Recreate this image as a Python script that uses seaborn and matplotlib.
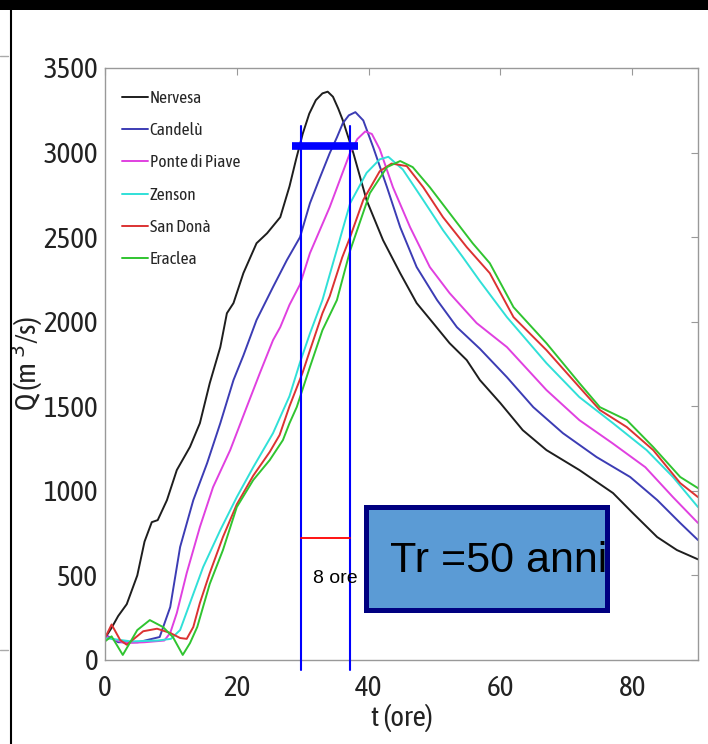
import matplotlib
matplotlib.use('Agg')
import matplotlib.pyplot as plt
from matplotlib import font_manager
from matplotlib.patches import Rectangle
from matplotlib.transforms import Bbox, TransformedBbox
import seaborn as sns
import pandas as pd

# Idrogrammi di piena, Tr = 50 anni
stations = ['Nervesa', 'Candelù', 'Ponte di Piave', 'Zenson', 'San Donà', 'Eraclea']
colors = ['#1e1e1e', '#3c3cb4', '#e040e0', '#30e0d8', '#dc3232', '#30c430']

t_nervesa = [0, 1, 2, 3.3, 4.9, 6, 7.1, 8, 9.4, 10.9, 12.9, 14.4, 15.9, 17.5, 18.5, 19.5, 21, 23, 24.6,
             26.6, 28, 29, 30, 31, 32, 33, 33.8, 34.6, 35.4, 36.1, 37.7, 39.7, 42.2, 44.8, 47.3, 49.8,
             52.3, 54.9, 56.9, 60, 63.4, 67, 72, 77.1, 80.1, 83.8, 86.8, 90]
q_nervesa = [130, 190, 260, 330, 500, 700, 815, 827, 945, 1123, 1260, 1400, 1637, 1850, 2050, 2110, 2287,
             2464, 2523, 2618, 2800, 2960, 3110, 3230, 3310, 3350, 3360, 3330, 3260, 3190, 2996, 2719,
             2482, 2287, 2110, 1992, 1873, 1773, 1655, 1519, 1359, 1241, 1123, 987, 869, 727, 650, 595]

t_candelu = [0, 2, 5, 8.3, 9.9, 11.4, 13.4, 15.5, 17.5, 19.5, 21, 23, 25.5, 27.6, 29.6, 31.1, 32.6, 34.1,
             35.2, 36.1, 37, 38, 39.2, 40.7, 42.8, 44.8, 47.3, 50.4, 53.4, 56.9, 61, 65, 69.5, 74.6,
             79.7, 83.8, 87.3, 90]
q_candelu = [150, 105, 105, 136, 313, 668, 945, 1164, 1400, 1655, 1800, 2010, 2205, 2364, 2500, 2700,
             2850, 2996, 3090, 3174, 3220, 3239, 3190, 3032, 2795, 2559, 2323, 2128, 1968, 1840, 1672,
             1495, 1341, 1200, 1082, 946, 810, 709]

t_ponte = [0, 3, 6, 9, 9.9, 10.9, 12.4, 14.4, 16.4, 19, 21.5, 23.5, 25.5, 26.6, 28, 29.6, 31.1, 34.1,
           37.2, 38.3, 39.5, 40.5, 41.7, 43.7, 46.3, 49.3, 52.3, 56.4, 61, 67, 72, 77, 82, 86.2, 90]
q_ponte = [140, 100, 105, 115, 160, 278, 514, 786, 1022, 1241, 1495, 1696, 1891, 1968, 2100, 2220, 2405,
           2677, 3000, 3080, 3125, 3110, 3020, 2795, 2559, 2323, 2169, 1992, 1850, 1596, 1418, 1282,
           1140, 963, 810]

t_zenson = [0, 4, 8, 10, 11.4, 12.9, 14.9, 17.5, 20, 22.5, 25.5, 28, 29.6, 31.1, 33, 35, 37.2, 39.7,
            41.7, 43, 45.2, 48.3, 51.3, 54.3, 56.9, 61, 67, 72, 77.1, 82.2, 86.2, 90]
q_zenson = [130, 110, 115, 125, 177, 337, 550, 768, 963, 1140, 1341, 1560, 1760, 1930, 2128, 2400, 2700,
            2880, 2960, 2975, 2900, 2719, 2541, 2382, 2240, 2027, 1755, 1554, 1400, 1241, 1082, 904]

t_sandona = [0, 1, 2.3, 3.3, 5.8, 7.9, 9.9, 11.4, 12.4, 13.4, 14.4, 15.9, 17.9, 20, 22.5, 25, 26.5, 28,
             30, 31.1, 33, 34.1, 36, 37.2, 39.2, 41.7, 43.5, 45.8, 48.3, 51.3, 54.9, 58.4, 62, 67, 72,
             75.1, 79.2, 83.2, 87.3, 90]
q_sandona = [130, 210, 118, 90, 170, 185, 160, 130, 125, 195, 337, 514, 727, 920, 1090, 1230, 1330, 1500,
             1700, 1830, 2050, 2150, 2380, 2500, 2720, 2890, 2935, 2920, 2795, 2618, 2441, 2287, 2027,
             1832, 1613, 1478, 1377, 1241, 1046, 963]

t_eraclea = [0, 1, 2.7, 4.9, 6.8, 8.8, 10.3, 11.8, 12.9, 14, 15.9, 17.9, 20, 22.5, 25, 27, 28, 29.1,
             31.1, 33, 35.2, 37.2, 40.2, 42.8, 44.8, 46.7, 49.3, 52.3, 55.8, 58.4, 62, 67, 72, 75.1,
             79.2, 83.2, 87.3, 90]
q_eraclea = [110, 140, 30, 177, 236, 195, 136, 30, 100, 195, 450, 650, 904, 1064, 1182, 1300, 1400, 1495,
             1732, 1950, 2128, 2420, 2760, 2914, 2950, 2914, 2795, 2642, 2464, 2346, 2086, 1873, 1637,
             1495, 1418, 1259, 1082, 1016]

# annotazioni (ore / m3/s)
bracket_t = [29.75, 37.2]
bracket_top = 3160
bar_t = [28.4, 38.4]
bar_q = 3036
delay_q = 721
delay_label = '8 ore'
box_t = [39.6, 76.2]
box_q = [296, 905]
box_label = 'Tr =50 anni'

series = [(t_nervesa, q_nervesa), (t_candelu, q_candelu), (t_ponte, q_ponte),
          (t_zenson, q_zenson), (t_sandona, q_sandona), (t_eraclea, q_eraclea)]
rows = []
for name, (tt, qq) in zip(stations, series):
    for a, b in zip(tt, qq):
        rows.append({'t': a, 'Q': b, 'stazione': name})
df = pd.DataFrame(rows)

sns.set_theme(style='white')
names = {f.name for f in font_manager.fontManager.ttflist}
narrow = None
for cand in ['Asap Condensed', 'Archivo Narrow', 'Barlow Semi Condensed', 'Liberation Sans Narrow']:
    if cand in names:
        narrow = cand
        break
arial = 'Liberation Sans' if 'Liberation Sans' in names else 'DejaVu Sans'
plt.rcParams['font.family'] = [narrow or 'DejaVu Sans', 'DejaVu Sans']
big = 21 if narrow else 16
small = 12.5 if narrow else 9.5

fig = plt.figure(figsize=(7.08, 7.44), dpi=100)
ax = fig.add_axes([105 / 708, 84 / 744, 593 / 708, 592 / 744])

sns.lineplot(data=df, x='t', y='Q', hue='stazione', hue_order=stations,
             palette=dict(zip(stations, colors)), estimator=None, sort=True,
             linewidth=1.4, ax=ax)

ax.set_xlim(0, 90)
ax.set_ylim(0, 3500)
ax.set_xticks([0, 20, 40, 60, 80])
ax.set_yticks(range(0, 3501, 500))
ax.tick_params(direction='in', top=True, right=True, length=5, width=0.8,
               color='#999999', labelsize=big, labelcolor='#222222')
ax.tick_params(axis='x', pad=11)
ax.tick_params(axis='y', pad=5)
for s in ax.spines.values():
    s.set_color('#999999')
    s.set_linewidth(1)

ax.set_xlabel('t (ore)', fontsize=big, color='#222222', labelpad=1)
ax.set_ylabel('Q (m $^{3}$/s)', fontsize=big, color='#222222')
ax.yaxis.set_label_coords(-0.102, 0.5)

h, l = ax.get_legend_handles_labels()
ax.legend(h, l, loc='upper left', bbox_to_anchor=(0.028, 0.963), frameon=False,
          fontsize=small, handlelength=1.5, handletextpad=0.12, labelspacing=0.88,
          borderpad=0, borderaxespad=0)

# linee di riferimento del ritardo
for tv in bracket_t:
    ax.plot([tv, tv], [bracket_top, -60], color='#0000ff', lw=1.5, clip_on=False, zorder=4)
ax.plot(bar_t, [bar_q, bar_q], color='#0000ff', lw=5.5, solid_capstyle='butt', zorder=4)
ax.plot(bracket_t, [delay_q, delay_q], color='#ff0000', lw=1.3, zorder=4)
ax.text(31.6, 455, delay_label, fontsize=14, family=[arial, 'DejaVu Sans'],
        color='black', va='baseline', ha='left', zorder=5)

# riquadro Tr
ax.add_patch(Rectangle((box_t[0], box_q[0]), box_t[1] - box_t[0], box_q[1] - box_q[0],
                       facecolor='#5b9bd5', edgecolor='none', zorder=5))
txt = ax.text(43.2, 520, box_label, fontsize=31, family=[arial, 'DejaVu Sans'],
              color='black', va='baseline', ha='left', zorder=6)
txt.set_clip_box(TransformedBbox(Bbox([[box_t[0], box_q[0]], [box_t[1], box_q[1]]]), ax.transData))
txt.set_clip_on(True)
ax.add_patch(Rectangle((box_t[0], box_q[0]), box_t[1] - box_t[0], box_q[1] - box_q[0],
                       facecolor='none', edgecolor='#000080', lw=3.6, zorder=7))

# cornice della slide
fig.patches.append(Rectangle((0, 734 / 744), 1, 10 / 744, transform=fig.transFigure,
                             facecolor='black', edgecolor='none'))
fig.lines.append(plt.Line2D([10.5 / 708, 10.5 / 708], [0, 734 / 744], transform=fig.transFigure,
                            color='black', lw=1.5))
for yy in [688 / 744, 94 / 744]:
    fig.lines.append(plt.Line2D([0, 8 / 708], [yy, yy], transform=fig.transFigure,
                                color='#aaaaaa', lw=1))

fig.savefig('out.png', dpi=100)
